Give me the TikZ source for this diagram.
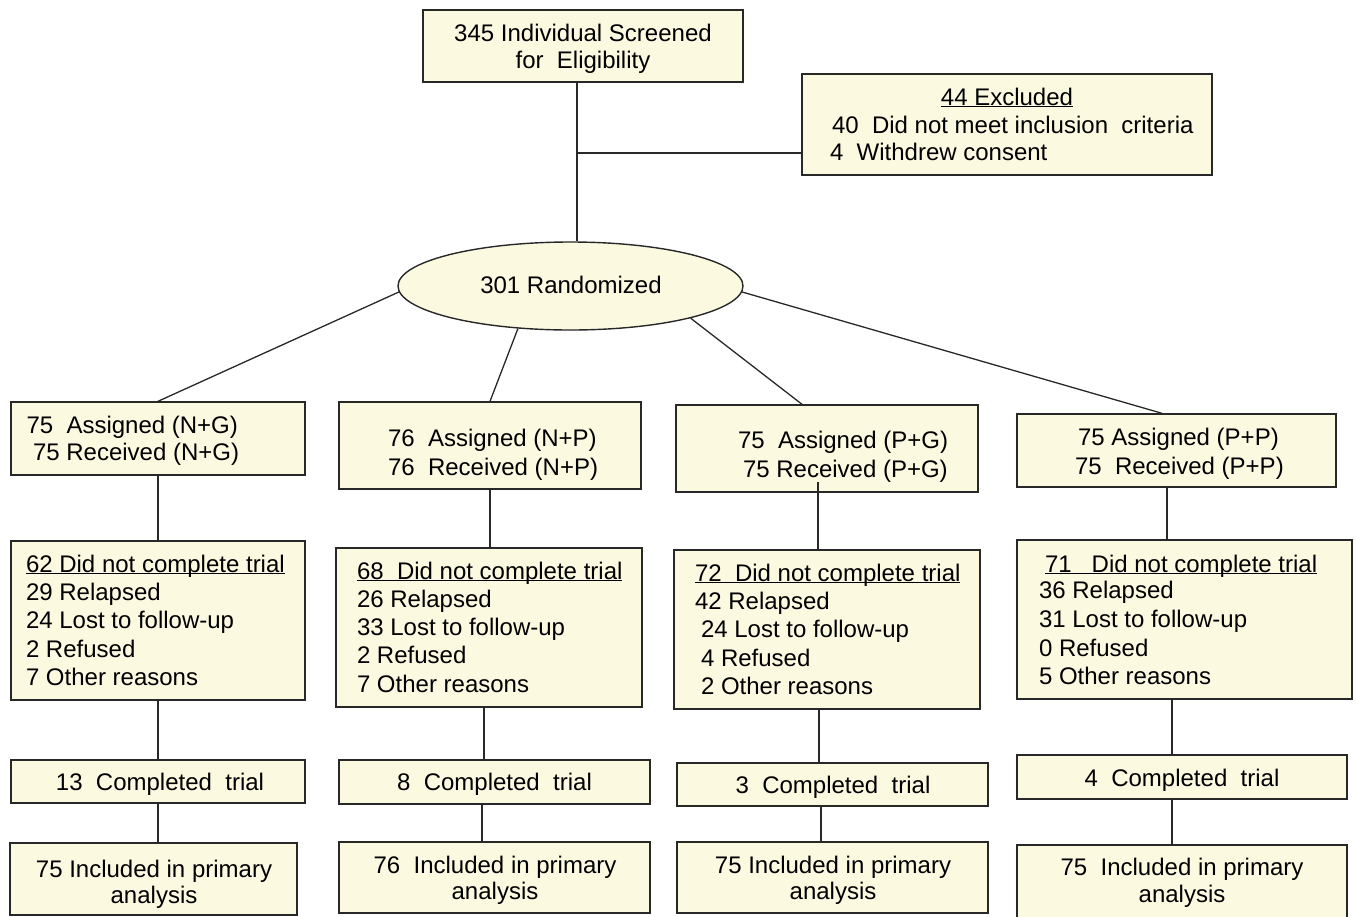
\documentclass[tikz,border=0pt]{standalone}
\usepackage{fontspec}
\setmainfont{Liberation Sans}
\usetikzlibrary{shapes.geometric,calc}
\definecolor{boxfill}{RGB}{252,249,225}
\definecolor{linec}{RGB}{40,40,40}
\newcommand\ulx[1]{\underline{\smash{#1}}}
\tikzset{
  box/.style={rectangle,draw=linec,fill=boxfill,line width=1.4pt,inner sep=0pt},
  ellbox/.style={ellipse,draw=linec,fill=boxfill,line width=1.4pt,inner sep=0pt},
  conn/.style={draw=linec,line width=1.3pt},
  txt/.style={inner sep=0pt,outer sep=0pt,text=black,font=\fontsize{24}{28}\selectfont},
  tl/.style={txt,anchor=base west},
  tc/.style={txt,anchor=base}
}
\begin{document}
\begin{tikzpicture}[x=1pt,y=-1pt]
\useasboundingbox (0,0) rectangle (1356,916);
% boxes
\node[box,minimum width=320,minimum height=72] (top) at (583,46) {};
\node[box,minimum width=410,minimum height=101] (ex) at (1007,124.5) {};
\node[ellbox,minimum width=345,minimum height=88] (ell) at (570.5,286) {};
\node[box,minimum width=294,minimum height=73] (b1) at (158,438.5) {};
\node[box,minimum width=302,minimum height=87] (b2) at (490,445.5) {};
\node[box,minimum width=302,minimum height=87] (b3) at (827,448.5) {};
\node[box,minimum width=319,minimum height=73] (b4) at (1176.5,450.5) {};
\node[box,minimum width=294,minimum height=159] (c1) at (158,620.5) {};
\node[box,minimum width=306,minimum height=159] (c2) at (489,627.5) {};
\node[box,minimum width=306,minimum height=159] (c3) at (827,629.5) {};
\node[box,minimum width=335,minimum height=159] (c4) at (1184.5,619.5) {};
\node[box,minimum width=294,minimum height=43] (d1) at (158,781.5) {};
\node[box,minimum width=311,minimum height=44] (d2) at (494.5,782) {};
\node[box,minimum width=311,minimum height=43] (d3) at (832.5,784.5) {};
\node[box,minimum width=330,minimum height=44] (d4) at (1182,777) {};
\node[box,minimum width=287,minimum height=72] (e1) at (153.5,879) {};
\node[box,minimum width=311,minimum height=71] (e2) at (494.5,877.5) {};
\node[box,minimum width=311,minimum height=71] (e3) at (832.5,877.5) {};
\node[box,minimum width=330,minimum height=80] (e4) at (1182,885) {};
% reference coordinates
\coordinate (x577) at (577,0);
\coordinate (br) at (577,153);
\coordinate (x158) at (158,0);
\coordinate (x490) at (490,0);
\coordinate (x484) at (484,0);
\coordinate (x482) at (482,0);
\coordinate (b3in) at (818,482);
\coordinate (x819) at (819,0);
\coordinate (x821) at (821,0);
\coordinate (x1167) at (1167,0);
\coordinate (x1172) at (1172,0);
% connectors
\draw[conn] (top.south -| x577) -- (ell.north -| x577);
\draw[conn] (br) -- (br -| ex.west);
\draw[conn] (ell.182) -- (b1.north);
\draw[conn] (ell.219) -- (b2.north);
\draw[conn] (ell.345) -- ($(b3.north)+(-25,0)$);
\draw[conn] (ell.358) -- ($(b4.north)+(-14.5,0)$);
\draw[conn] (b1.south) -- (c1.north -| x158);
\draw[conn] (c1.south -| x158) -- (d1.north -| x158);
\draw[conn] (d1.south -| x158) -- (e1.north -| x158);
\draw[conn] (b2.south -| x490) -- (c2.north -| x490);
\draw[conn] (c2.south -| x484) -- (d2.north -| x484);
\draw[conn] (d2.south -| x482) -- (e2.north -| x482);
\draw[conn] (b3in) -- (c3.north -| b3in);
\draw[conn] (c3.south -| x819) -- (d3.north -| x819);
\draw[conn] (d3.south -| x821) -- (e3.north -| x821);
\draw[conn] (b4.south -| x1167) -- (c4.north -| x1167);
\draw[conn] (c4.south -| x1172) -- (d4.north -| x1172);
\draw[conn] (d4.south -| x1172) -- (e4.north -| x1172);
% texts
\node[tc] (t1) at (583,41) {345 Individual Screened};
\node[tc] (t2) at (583,68) {for\ \ Eligibility};
\node[tc] (x1) at (1007,105) {\ulx{44 Excluded}};
\node[tl] (x2) at (832,133) {40\ \ Did not meet inclusion\ \ criteria};
\node[tl] (x3) at (830,160) {4\ \ Withdrew consent};
\node[tc] (r1) at (571,293) {301 Randomized};
\node[tl] (b1a) at (26.5,433.5) {75\ \ Assigned (N+G)};
\node[tl] (b1b) at (33,460) {75 Received (N+G)};
\node[tl] (b2a) at (388,446) {76\ \ Assigned (N+P)};
\node[tl] (b2b) at (388,475) {76\ \ Received (N+P)};
\node[tl] (b3a) at (738,448.5) {75\ \ Assigned (P+G)};
\node[tl] (b3b) at (743,477) {75 Received (P+G)};
\node[tl] (b4a) at (1078,445) {75 Assigned (P+P)};
\node[tl] (b4b) at (1075,474) {75\ \ Received (P+P)};
\node[tl] (c1a) at (26,572) {\ulx{62 Did not complete trial}};
\node[tl] (c1b) at (26,600) {29 Relapsed};
\node[tl] (c1c) at (26,628) {24 Lost to follow-up};
\node[tl] (c1d) at (26,657) {2 Refused};
\node[tl] (c1e) at (26,685) {7 Other reasons};
\node[tl] (c2a) at (357,579) {\ulx{68\ \ Did not complete trial}};
\node[tl] (c2b) at (357,607) {26 Relapsed};
\node[tl] (c2c) at (357,635) {33 Lost to follow-up};
\node[tl] (c2d) at (357,663.5) {2 Refused};
\node[tl] (c2e) at (357,692) {7 Other reasons};
\node[tl] (c3a) at (695,581) {\ulx{72\ \ Did not complete trial}};
\node[tl] (c3b) at (695,609) {42 Relapsed};
\node[tl] (c3c) at (701,637) {24 Lost to follow-up};
\node[tl] (c3d) at (701,666) {4 Refused};
\node[tl] (c3e) at (701,694) {2 Other reasons};
\node[tl] (c4a) at (1045,572) {\ulx{71\ \ \ Did not complete trial}};
\node[tl] (c4b) at (1039,598.5) {36 Relapsed};
\node[tl] (c4c) at (1039,627) {31 Lost to follow-up};
\node[tl] (c4d) at (1039,656) {0 Refused};
\node[tl] (c4e) at (1039,684) {5 Other reasons};
\node[tc] (d1t) at (160,790) {13\ \ Completed\ \ trial};
\node[tc] (d2t) at (494.5,790) {8\ \ Completed\ \ trial};
\node[tc] (d3t) at (833,793) {3\ \ Completed\ \ trial};
\node[tc] (d4t) at (1182,786) {4\ \ Completed\ \ trial};
\node[tc] (e1a) at (154,877) {75 Included in primary};
\node[tc] (e1b) at (154,903) {analysis};
\node[tc] (e2a) at (495,873) {76\ \ Included in primary};
\node[tc] (e2b) at (495,899) {analysis};
\node[tc] (e3a) at (833,873) {75 Included in primary};
\node[tc] (e3b) at (833,899) {analysis};
\node[tc] (e4a) at (1182,875) {75\ \ Included in primary};
\node[tc] (e4b) at (1182,902) {analysis};
\end{tikzpicture}
\end{document}
